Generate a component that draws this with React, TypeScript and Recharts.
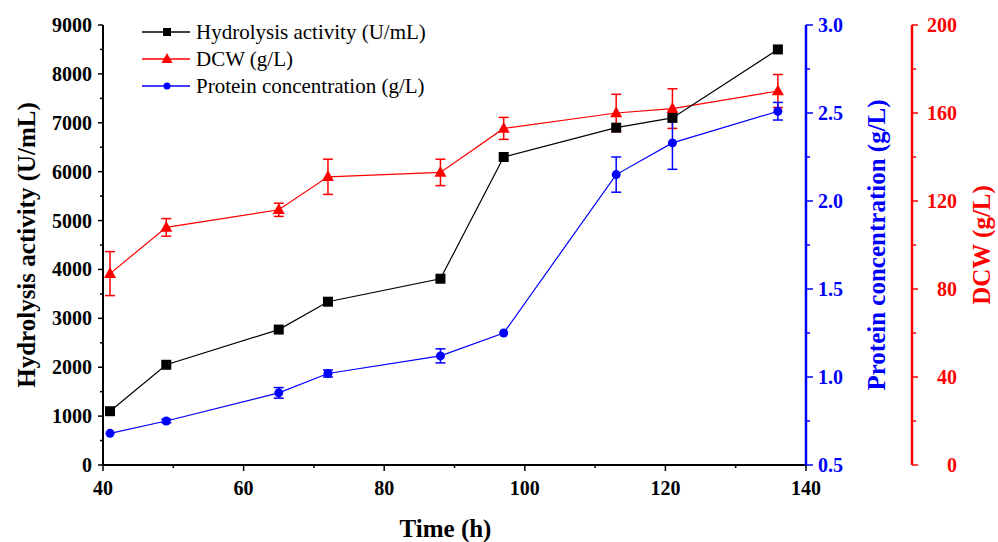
import { ComposedChart, Line, XAxis, YAxis, ErrorBar, Legend } from 'recharts';

const time = [41, 49, 65, 72, 88, 97, 113, 121, 136];
const hydrolysis = [1100, 2050, 2770, 3340, 3810, 6300, 6900, 7100, 8500];
const dcw = [87, 108, 116, 131, 133, 153, 160, 162, 170];
const dcwErr = [10, 4, 3, 8, 6, 5, 8.5, 9, 7.5];
const protein = [0.68, 0.75, 0.91, 1.02, 1.12, 1.25, 2.15, 2.33, 2.51];
const proteinErr = [0, 0.01, 0.03, 0.02, 0.04, 0, 0.1, 0.15, 0.05];

const seriesNames = ['Hydrolysis activity (U/mL)', 'DCW (g/L)', 'Protein concentration (g/L)'];

const xTicks = [40, 50, 60, 70, 80, 90, 100, 110, 120, 130, 140];
const leftTicks = [0, 500, 1000, 1500, 2000, 2500, 3000, 3500, 4000, 4500, 5000, 5500, 6000, 6500, 7000, 7500, 8000, 8500, 9000];
const proteinTicks = [0.5, 0.75, 1.0, 1.25, 1.5, 1.75, 2.0, 2.25, 2.5, 2.75, 3.0];
const dcwTicks = [0, 20, 40, 60, 80, 100, 120, 140, 160, 180, 200];

const data = time.map((t, i) => ({
  time: t,
  hydrolysis: hydrolysis[i],
  dcw: dcw[i],
  dcwErr: dcwErr[i],
  protein: protein[i],
  proteinErr: proteinErr[i],
}));

const FONT = '"Liberation Serif", "Times New Roman", serif';
const BLACK = '#000000';
const RED = '#ff0000';
const BLUE = '#0000ff';

function Square({ cx, cy, size = 10, fill }: any) {
  return <rect x={cx - size / 2} y={cy - size / 2} width={size} height={size} fill={fill} />;
}

function Triangle({ cx, cy, size = 12, fill }: any) {
  const h = size * 0.9;
  return <polygon points={`${cx},${cy - h * 0.6} ${cx - size / 2},${cy + h * 0.4} ${cx + size / 2},${cy + h * 0.4}`} fill={fill} />;
}

function Dot({ cx, cy, r = 4.5, fill }: any) {
  return <circle cx={cx} cy={cy} r={r} fill={fill} />;
}

function BottomTick({ x, y, payload }: any) {
  const v = payload.value;
  const major = v % 20 === 0;
  return (
    <g>
      <line x1={x} x2={x} y1={y} y2={y + (major ? 6 : 3)} stroke={BLACK} strokeWidth={1.5} />
      {major && (
        <text x={x} y={y + 23} dy="0.35em" textAnchor="middle" fontFamily={FONT} fontWeight="bold" fontSize={20} fill={BLACK}>
          {v}
        </text>
      )}
    </g>
  );
}

function LeftTick({ x, y, payload }: any) {
  const v = payload.value;
  const major = v % 1000 === 0;
  return (
    <g>
      <line x1={x} x2={x - (major ? 5 : 3)} y1={y} y2={y} stroke={BLACK} strokeWidth={1.5} />
      {major && (
        <text x={x - 11} y={y} dy="0.35em" textAnchor="end" fontFamily={FONT} fontWeight="bold" fontSize={20} fill={BLACK}>
          {v}
        </text>
      )}
    </g>
  );
}

function ProteinTick({ x, y, payload }: any) {
  const v = payload.value;
  const major = Math.abs(v * 2 - Math.round(v * 2)) < 1e-6;
  return (
    <g>
      <line x1={x} x2={x + (major ? 7 : 4)} y1={y} y2={y} stroke={BLUE} strokeWidth={1.5} />
      {major && (
        <text x={x + 12} y={y} dy="0.35em" textAnchor="start" fontFamily={FONT} fontWeight="bold" fontSize={20} fill={BLUE}>
          {v.toFixed(1)}
        </text>
      )}
    </g>
  );
}

function DcwTick({ x, y, payload }: any) {
  const v = payload.value;
  const major = v % 40 === 0;
  return (
    <g>
      <line x1={x} x2={x + (major ? 6 : 4)} y1={y} y2={y} stroke={RED} strokeWidth={1.5} />
      {major && (
        <text x={x + 45} y={y} dy="0.35em" textAnchor="end" fontFamily={FONT} fontWeight="bold" fontSize={20} fill={RED}>
          {v}
        </text>
      )}
    </g>
  );
}

// axis titles, placed from the axis box
function yTitle(text: string, dx: number, color: string) {
  return ({ viewBox }: any) => {
    const x = viewBox.x + dx;
    const y = viewBox.y + viewBox.height / 2;
    return (
      <text x={x} y={y} transform={`rotate(-90, ${x}, ${y})`} textAnchor="middle" dominantBaseline="central"
        fontFamily={FONT} fontWeight="bold" fontSize={25} fill={color}>
        {text}
      </text>
    );
  };
}

function xTitle({ viewBox }: any) {
  return (
    <text x={viewBox.x + viewBox.width / 2 - 9} y={viewBox.y + 72} textAnchor="middle"
      fontFamily={FONT} fontWeight="bold" fontSize={25} fill={BLACK}>
      Time (h)
    </text>
  );
}

const legendRows = [
  { name: seriesNames[0], color: BLACK, marker: 'square' },
  { name: seriesNames[1], color: RED, marker: 'triangle' },
  { name: seriesNames[2], color: BLUE, marker: 'circle' },
];

function renderLegend() {
  return (
    <svg width={330} height={90}>
      {legendRows.map((r, i) => {
        const cy = 17 + i * 27;
        return (
          <g key={r.name}>
            <line x1={7} x2={55} y1={cy} y2={cy} stroke={r.color} strokeWidth={1.5} />
            {r.marker === 'square' && <Square cx={32} cy={cy} size={8} fill={r.color} />}
            {r.marker === 'triangle' && <Triangle cx={32} cy={cy} size={11} fill={r.color} />}
            {r.marker === 'circle' && <Dot cx={32} cy={cy} r={3.5} fill={r.color} />}
            <text x={61} y={cy} dy="0.35em" fontFamily={FONT} fontSize={21} fill={BLACK}>
              {r.name}
            </text>
          </g>
        );
      })}
    </svg>
  );
}

export default function App() {
  return (
    <div style={{ position: 'absolute', left: 0, top: 0, background: '#fff' }}>
      <ComposedChart width={998} height={542} data={data} margin={{ top: 25, right: 0, bottom: 0, left: 0 }}>
        <XAxis
          dataKey="time"
          type="number"
          domain={[40, 140]}
          ticks={xTicks}
          interval={0}
          height={77}
          tickSize={0}
          tickMargin={0}
          tickLine={false}
          tick={<BottomTick />}
          axisLine={{ stroke: BLACK, strokeWidth: 2 }}
          label={{ content: xTitle }}
        />
        <YAxis
          yAxisId="axisH"
          orientation="left"
          width={103}
          domain={[0, 9000]}
          ticks={leftTicks}
          interval={0}
          tickSize={0}
          tickMargin={0}
          tickLine={false}
          tick={<LeftTick />}
          axisLine={{ stroke: BLACK, strokeWidth: 2 }}
          label={{ content: yTitle('Hydrolysis activity (U/mL)', 26, BLACK) }}
        />
        <YAxis
          yAxisId="axisA"
          orientation="right"
          width={106}
          domain={[0.5, 3]}
          ticks={proteinTicks}
          interval={0}
          tickSize={0}
          tickMargin={0}
          tickLine={false}
          tick={<ProteinTick />}
          axisLine={{ stroke: BLUE, strokeWidth: 2.5 }}
          label={{ content: yTitle('Protein concentration (g/L)', 70, BLUE) }}
        />
        <YAxis
          yAxisId="axisB"
          orientation="right"
          width={86}
          domain={[0, 200]}
          ticks={dcwTicks}
          interval={0}
          tickSize={0}
          tickMargin={0}
          tickLine={false}
          tick={<DcwTick />}
          axisLine={{ stroke: RED, strokeWidth: 2.5 }}
          label={{ content: yTitle('DCW (g/L)', 69, RED) }}
        />
        <Legend
          layout="vertical"
          align="center"
          verticalAlign="middle"
          content={renderLegend}
          wrapperStyle={{ left: 135, top: 15, width: 330, height: 90 }}
        />
        <Line
          yAxisId="axisB"
          dataKey="dcw"
          name={seriesNames[1]}
          stroke={RED}
          strokeWidth={1.2}
          isAnimationActive={false}
          dot={(p: any) => <Triangle key={p.index} cx={p.cx} cy={p.cy} size={12} fill={RED} />}
          activeDot={false}
        >
          <ErrorBar dataKey="dcwErr" width={5} stroke={RED} strokeWidth={1.5} direction="y" isAnimationActive={false} />
        </Line>
        <Line
          yAxisId="axisA"
          dataKey="protein"
          name={seriesNames[2]}
          stroke={BLUE}
          strokeWidth={1.2}
          isAnimationActive={false}
          dot={(p: any) => <Dot key={p.index} cx={p.cx} cy={p.cy} r={4.5} fill={BLUE} />}
          activeDot={false}
        >
          <ErrorBar dataKey="proteinErr" width={5} stroke={BLUE} strokeWidth={1.5} direction="y" isAnimationActive={false} />
        </Line>
        <Line
          yAxisId="axisH"
          dataKey="hydrolysis"
          name={seriesNames[0]}
          stroke={BLACK}
          strokeWidth={1.2}
          isAnimationActive={false}
          dot={(p: any) => <Square key={p.index} cx={p.cx} cy={p.cy} size={10} fill={BLACK} />}
          activeDot={false}
        />
      </ComposedChart>
    </div>
  );
}
